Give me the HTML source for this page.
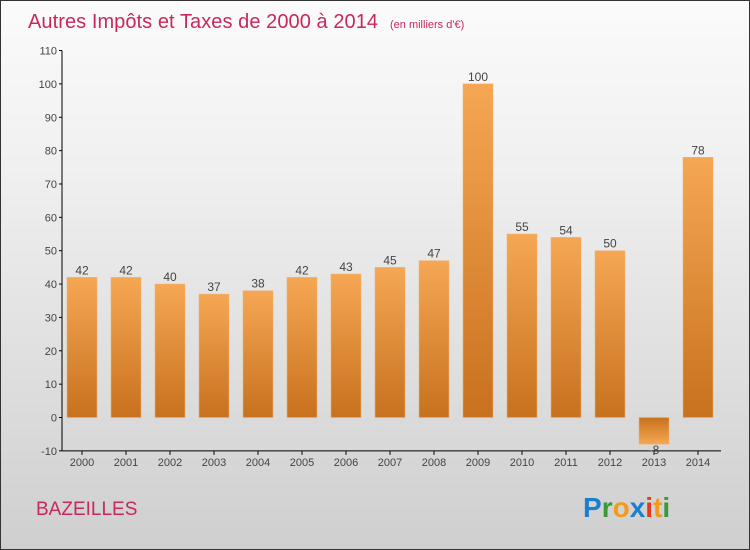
<!DOCTYPE html>
<html><head><meta charset="utf-8"><style>
body{margin:0}
#c{width:748px;height:548px;border:1px solid #333;background:linear-gradient(#fbfbfb,#f0f0f0 30%,#cfcfcf);position:relative;font-family:"Liberation Sans",sans-serif;overflow:hidden}
</style></head><body>
<div id="c">
<svg id="s" width="748" height="548">
<defs>
<linearGradient id="g" x1="0" y1="0" x2="0" y2="1"><stop offset="0" stop-color="#f6a753"/><stop offset="1" stop-color="#c8711f"/></linearGradient>
<linearGradient id="gn" x1="0" y1="0" x2="0" y2="1"><stop offset="0" stop-color="#c8711f"/><stop offset="1" stop-color="#f6a753"/></linearGradient>
</defs>
<text x="27" y="27" font-size="20" fill="#c8285a" textLength="350">Autres Impôts et Taxes de 2000 à 2014</text>
<text x="389" y="27" font-size="11" fill="#c8285a">(en milliers d'€)</text>
<text x="35" y="514" font-size="19" fill="#c8285a">BAZEILLES</text>
<g font-size="28" font-weight="bold" font-family="'Liberation Sans',sans-serif">
<text x="582" y="516"><tspan fill="#1a7fd0">P</tspan><tspan fill="#3a9a3a">r</tspan><tspan fill="#f39a1a">o</tspan><tspan fill="#1a7fd0">x</tspan><tspan fill="#e83a1a">i</tspan><tspan fill="#f39a1a">t</tspan><tspan fill="#3a9a3a">i</tspan></text>
</g>
<g id="plot"></g>
</svg>
</div>
<script>
const years=["2000","2001","2002","2003","2004","2005","2006","2007","2008","2009","2010","2011","2012","2013","2014"];
const values=[42,42,40,37,38,42,43,45,47,100,55,54,50,-8,78];
const yTicks=[-10,0,10,20,30,40,50,60,70,80,90,100,110];
const NS="http://www.w3.org/2000/svg";
const p=document.getElementById('plot');
const y=v=>416.5-v*3.336;
const x=i=>81+i*44;
function mk(t,a){const e=document.createElementNS(NS,t);for(const k in a)e.setAttribute(k,a[k]);p.appendChild(e);return e;}
let ax=mk('line',{x1:61,y1:y(-10),x2:61,y2:y(110),stroke:'#000'});


let xa=mk('line',{x1:61,y1:y(-10),x2:720,y2:y(-10),stroke:'#000'});


yTicks.forEach(t=>{
 mk('line',{x1:58,y1:y(t),x2:61,y2:y(t),stroke:'#000'});
 const tx=mk('text',{x:56,y:y(t)+4,'font-size':11,'text-anchor':'end',fill:'#444'});tx.textContent=t;
 
 
});
years.forEach((yr,i)=>{
 const v=values[i];
 mk('line',{x1:x(i),y1:y(-10),x2:x(i),y2:y(-10)+4,stroke:'#000'});
 const lt=mk('text',{x:x(i),y:y(-10)+15,'font-size':11,'text-anchor':'middle',fill:'#444'});lt.textContent=yr;
 
 
 const top=Math.min(y(v),y(0)),h=Math.abs(y(v)-y(0));
 const r=mk('rect',{x:x(i)-15,y:top,width:30,height:h,fill:v<0?'url(#gn)':'url(#g)',stroke:'#f0b070','stroke-width':0.5});
 
 
 const vt=mk('text',{x:x(i),y:v<0?y(v)+10:y(v)-3,'font-size':12,'text-anchor':'middle',fill:'#444'});vt.textContent=v;
 
 
});
</script>
</body></html>
